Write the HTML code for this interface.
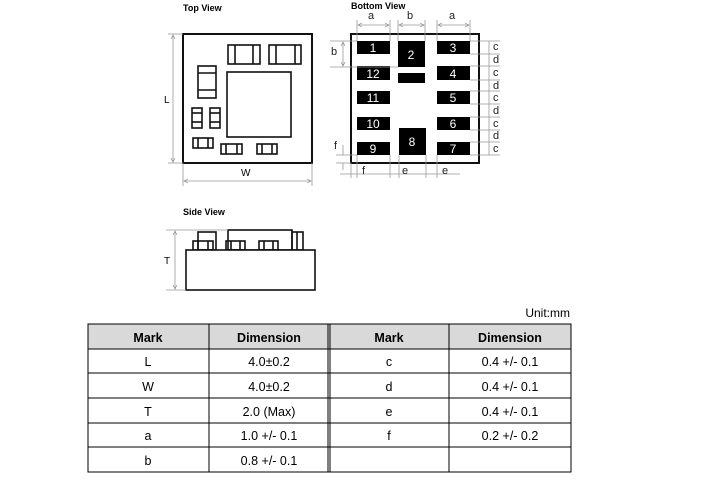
<!DOCTYPE html>
<html><head><meta charset="utf-8"><style>
html,body{margin:0;padding:0;background:#fff;}
svg{display:block;font-family:"Liberation Sans",Arial,sans-serif;}
</style></head><body>
<svg width="703" height="489" viewBox="0 0 703 489" xmlns="http://www.w3.org/2000/svg">
<defs>
<marker id="ar" markerWidth="6" markerHeight="6" refX="5" refY="3" orient="auto-start-reverse"><path d="M0,0.5 L5,3 L0,5.5" fill="none" stroke="#888" stroke-width="0.8"/></marker>
</defs>
<!-- Top view -->
<text x="183" y="11" font-size="9" font-weight="bold">Top View</text>
<g fill="none" stroke="#111" stroke-width="1.6">
<rect x="183" y="34" width="129" height="129" stroke-width="2"/>
<rect x="228" y="45" width="32" height="19"/><line x1="235" y1="45" x2="235" y2="64"/><line x1="253" y1="45" x2="253" y2="64"/>
<rect x="269" y="45" width="32" height="19"/><line x1="276" y1="45" x2="276" y2="64"/><line x1="295" y1="45" x2="295" y2="64"/>
<rect x="198" y="66" width="18" height="32"/><line x1="198" y1="73" x2="216" y2="73"/><line x1="198" y1="90" x2="216" y2="90"/>
<rect x="227" y="72" width="64" height="65"/>
<rect x="192" y="108" width="10" height="20"/><line x1="192" y1="113" x2="202" y2="113"/><line x1="192" y1="122" x2="202" y2="122"/>
<rect x="210" y="108" width="10" height="20"/><line x1="210" y1="113" x2="220" y2="113"/><line x1="210" y1="122" x2="220" y2="122"/>
<rect x="193" y="138" width="20" height="10"/><line x1="198" y1="138" x2="198" y2="148"/><line x1="208" y1="138" x2="208" y2="148"/>
<rect x="221" y="144" width="21" height="10"/><line x1="226" y1="144" x2="226" y2="154"/><line x1="237" y1="144" x2="237" y2="154"/>
<rect x="257" y="144" width="20" height="10"/><line x1="262" y1="144" x2="262" y2="154"/><line x1="272" y1="144" x2="272" y2="154"/>
</g>
<g stroke="#999" stroke-width="0.8" fill="none">
<line x1="168" y1="34" x2="183" y2="34"/><line x1="168" y1="163" x2="183" y2="163"/>
<line x1="173" y1="35" x2="173" y2="162" marker-start="url(#ar)" marker-end="url(#ar)"/>
<line x1="183" y1="163" x2="183" y2="186"/><line x1="312" y1="163" x2="312" y2="186"/>
<line x1="184" y1="181" x2="311" y2="181" marker-start="url(#ar)" marker-end="url(#ar)"/>
</g>
<text x="164" y="103" font-size="10">L</text>
<text x="241" y="176" font-size="10">W</text>

<!-- Bottom view -->
<text x="351" y="9" font-size="9" font-weight="bold">Bottom View</text>
<rect x="351" y="34" width="128" height="129" fill="none" stroke="#111" stroke-width="2"/>
<g fill="#000">
<rect x="357" y="41" width="33" height="13"/><rect x="398" y="41" width="27" height="26"/><rect x="437" y="41" width="33" height="13"/>
<rect x="357" y="66" width="33" height="14"/><rect x="398" y="73" width="27" height="10"/><rect x="437" y="66" width="33" height="14"/>
<rect x="357" y="91" width="33" height="13"/><rect x="437" y="91" width="33" height="13"/>
<rect x="357" y="117" width="33" height="13"/><rect x="437" y="117" width="33" height="13"/>
<rect x="357" y="142" width="33" height="13"/><rect x="399" y="128" width="27" height="27"/><rect x="437" y="142" width="33" height="13"/>
</g>
<g fill="#fff" font-size="12" text-anchor="middle">
<text x="373" y="52">1</text><text x="411" y="59">2</text><text x="453" y="52">3</text>
<text x="373" y="78">12</text><text x="453" y="78">4</text>
<text x="373" y="102">11</text><text x="453" y="102">5</text>
<text x="373" y="128">10</text><text x="453" y="128">6</text>
<text x="373" y="153">9</text><text x="412" y="146">8</text><text x="453" y="153">7</text>
</g>
<g stroke="#999" stroke-width="0.8" fill="none">
<line x1="357" y1="20" x2="357" y2="41"/><line x1="390" y1="20" x2="390" y2="41"/>
<line x1="398" y1="20" x2="398" y2="41"/><line x1="425" y1="20" x2="425" y2="41"/>
<line x1="437" y1="20" x2="437" y2="41"/><line x1="470" y1="20" x2="470" y2="41"/>
<line x1="358" y1="25" x2="389" y2="25" marker-start="url(#ar)" marker-end="url(#ar)"/>
<line x1="399" y1="25" x2="424" y2="25" marker-start="url(#ar)" marker-end="url(#ar)"/>
<line x1="438" y1="25" x2="469" y2="25" marker-start="url(#ar)" marker-end="url(#ar)"/>
<line x1="330" y1="41" x2="357" y2="41"/><line x1="330" y1="67" x2="398" y2="67"/>
<line x1="343" y1="42" x2="343" y2="66" marker-start="url(#ar)" marker-end="url(#ar)"/>
<line x1="470" y1="41" x2="500" y2="41"/><line x1="470" y1="54" x2="500" y2="54"/><line x1="470" y1="66" x2="500" y2="66"/>
<line x1="470" y1="80" x2="500" y2="80"/><line x1="470" y1="91" x2="500" y2="91"/><line x1="470" y1="104" x2="500" y2="104"/>
<line x1="470" y1="117" x2="500" y2="117"/><line x1="470" y1="130" x2="500" y2="130"/><line x1="470" y1="142" x2="500" y2="142"/>
<line x1="470" y1="155" x2="500" y2="155"/>
<line x1="489" y1="41" x2="489" y2="155"/>
<line x1="336" y1="155" x2="357" y2="155"/><line x1="336" y1="163" x2="351" y2="163"/>
<line x1="343" y1="145" x2="343" y2="155"/><line x1="343" y1="163" x2="343" y2="170"/>
<line x1="351" y1="163" x2="351" y2="178"/><line x1="357" y1="155" x2="357" y2="178"/>
<line x1="390" y1="155" x2="390" y2="178"/><line x1="399" y1="155" x2="399" y2="178"/>
<line x1="426" y1="155" x2="426" y2="178"/><line x1="437" y1="155" x2="437" y2="178"/>
<line x1="340" y1="174" x2="460" y2="174"/>
</g>
<g font-size="11" fill="#222">
<text x="368" y="19" >a</text><text x="407" y="19">b</text><text x="449" y="19">a</text>
<text x="331" y="55">b</text>
<text x="493" y="50">c</text><text x="493" y="63">d</text><text x="493" y="76">c</text><text x="493" y="89">d</text><text x="493" y="101">c</text><text x="493" y="114">d</text><text x="493" y="127">c</text><text x="493" y="139">d</text><text x="493" y="152">c</text>
<text x="334" y="149">f</text>
<text x="362" y="174">f</text><text x="402" y="174">e</text><text x="442" y="174">e</text>
</g>

<!-- Side view -->
<text x="183" y="215" font-size="9" font-weight="bold">Side View</text>
<g fill="none" stroke="#111" stroke-width="1.6">
<rect x="198" y="232" width="18" height="18"/>
<rect x="193" y="241" width="20" height="9"/><line x1="198" y1="241" x2="198" y2="250"/><line x1="208" y1="241" x2="208" y2="250"/>
<rect x="228" y="230" width="64" height="20"/>
<rect x="292" y="232" width="11" height="18"/><line x1="297" y1="232" x2="297" y2="250"/>
<rect x="226" y="241" width="19" height="9"/><line x1="231" y1="241" x2="231" y2="250"/><line x1="240" y1="241" x2="240" y2="250"/>
<rect x="259" y="241" width="19" height="9"/><line x1="264" y1="241" x2="264" y2="250"/><line x1="273" y1="241" x2="273" y2="250"/>
<rect x="186" y="250" width="129" height="40" fill="#fff"/>
</g>
<g stroke="#999" stroke-width="0.8" fill="none">
<line x1="166" y1="230" x2="228" y2="230"/><line x1="166" y1="290" x2="186" y2="290"/>
<line x1="175" y1="231" x2="175" y2="289" marker-start="url(#ar)" marker-end="url(#ar)"/>
</g>
<text x="164" y="264" font-size="10">T</text>

<!-- Table -->
<text x="570" y="317" font-size="12" text-anchor="end">Unit:mm</text>
<rect x="88" y="324" width="483" height="25" fill="#d9d9d9"/>
<g stroke="#000" stroke-width="1" fill="none">
<rect x="88" y="324" width="483" height="148"/>
<line x1="88" y1="349" x2="571" y2="349"/><line x1="88" y1="373" x2="571" y2="373"/><line x1="88" y1="398" x2="571" y2="398"/><line x1="88" y1="423" x2="571" y2="423"/><line x1="88" y1="447" x2="571" y2="447"/>
<line x1="209" y1="324" x2="209" y2="472"/><line x1="328" y1="324" x2="328" y2="472"/><line x1="330" y1="324" x2="330" y2="472"/><line x1="449" y1="324" x2="449" y2="472"/>
</g>
<g font-size="12.5" text-anchor="middle">
<g font-weight="bold"><text x="148" y="342">Mark</text><text x="269" y="342">Dimension</text><text x="389" y="342">Mark</text><text x="510" y="342">Dimension</text></g>
<text x="148" y="366">L</text><text x="269" y="366">4.0±0.2</text><text x="389" y="366">c</text><text x="510" y="366">0.4 +/- 0.1</text>
<text x="148" y="391">W</text><text x="269" y="391">4.0±0.2</text><text x="389" y="391">d</text><text x="510" y="391">0.4 +/- 0.1</text>
<text x="148" y="416">T</text><text x="269" y="416">2.0 (Max)</text><text x="389" y="416">e</text><text x="510" y="416">0.4 +/- 0.1</text>
<text x="148" y="440">a</text><text x="269" y="440">1.0 +/- 0.1</text><text x="389" y="440">f</text><text x="510" y="440">0.2 +/- 0.2</text>
<text x="148" y="465">b</text><text x="269" y="465">0.8 +/- 0.1</text>
</g>
</svg>
</body></html>
